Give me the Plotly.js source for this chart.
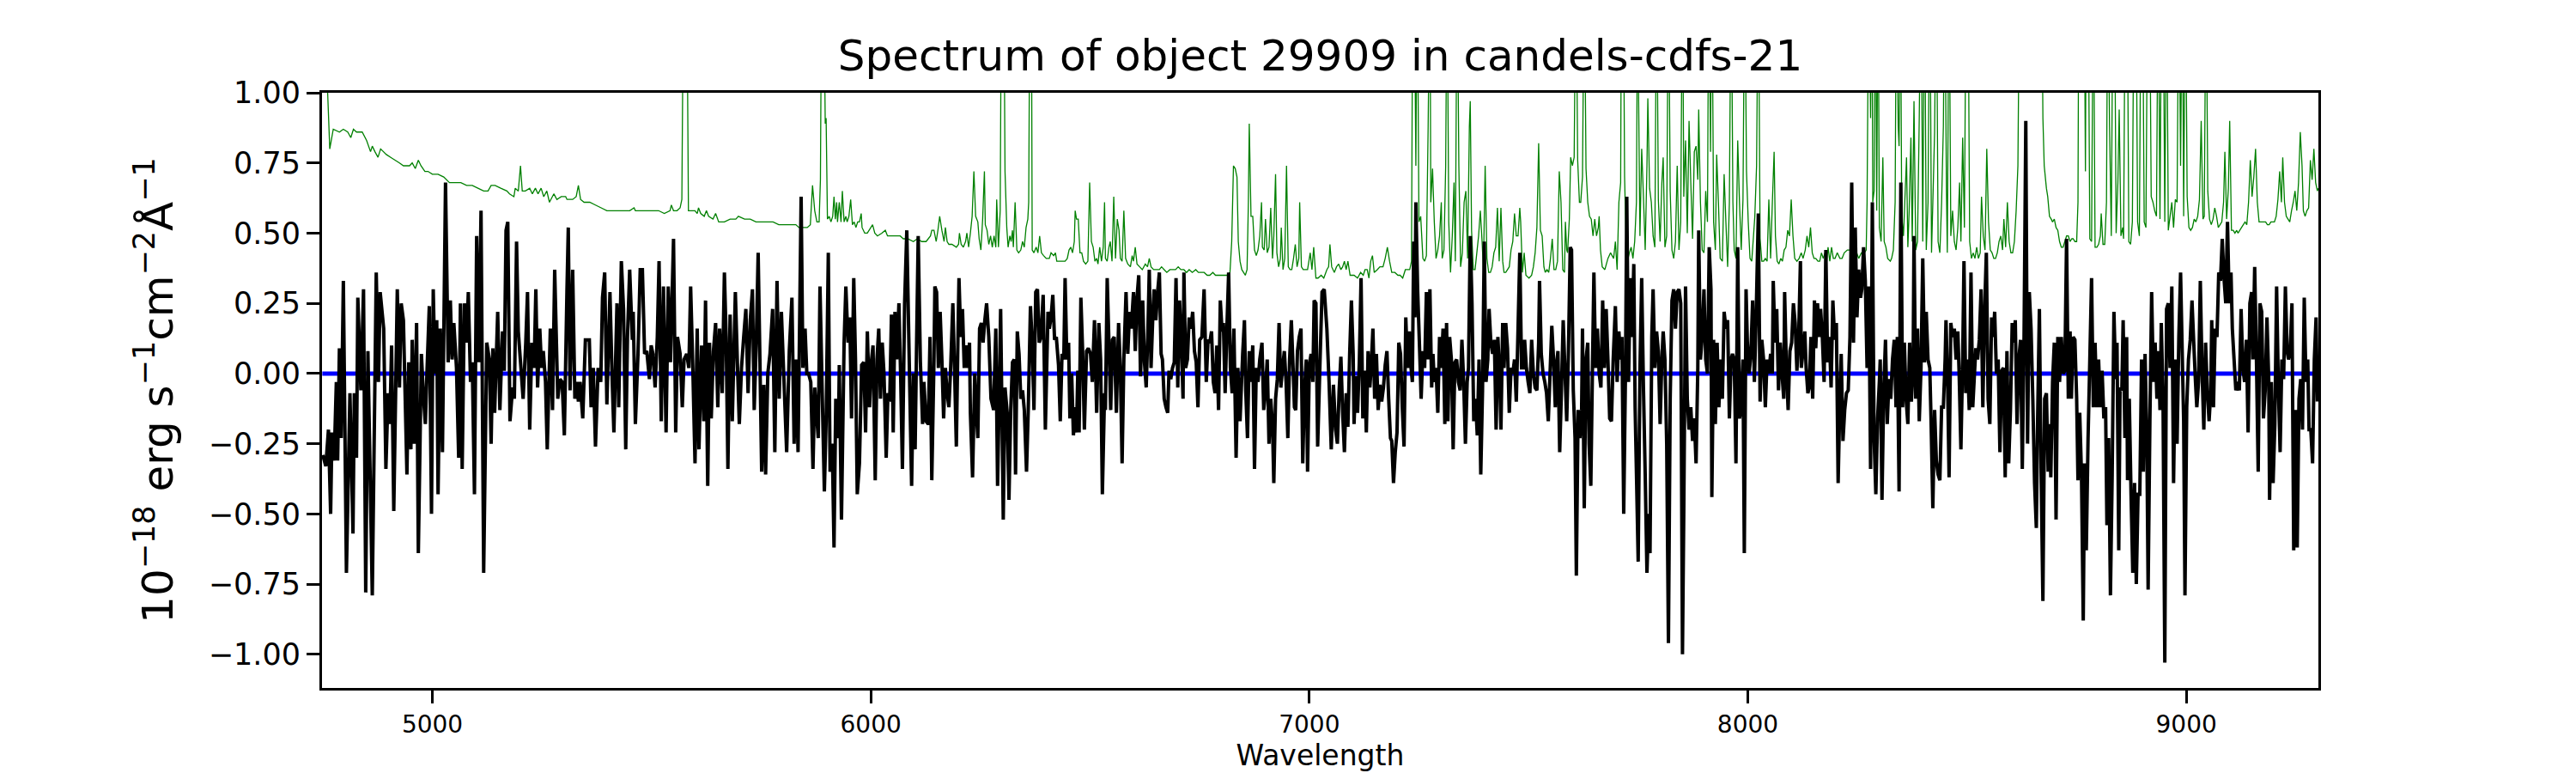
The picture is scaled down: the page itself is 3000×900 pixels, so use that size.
<!DOCTYPE html>
<html><head><meta charset="utf-8">
<script src="https://cdn.plot.ly/plotly-3.0.1.min.js"></script>
<style>html,body{margin:0;padding:0;background:#fff}</style>
</head><body><div id="chart" style="width:3000px;height:900px"></div>
<script>
// Flux readings: [wavelength (Angstrom), flux (1e-18 erg/s/cm2/A)]
const fluxA = [[4750,-0.29],[4757,-0.33],[4763,-0.20],[4768,-0.50],[4771,-0.21],[4776,-0.31],[4781,-0.03],[4784,-0.31],[4788,0.09],[4792,-0.23],[4797,0.33],[4804,-0.71],[4812,-0.07],[4819,-0.57],[4822,-0.07],[4827,-0.30],[4830,0.27],[4837,-0.06],[4843,0.30],[4848,-0.78],[4853,0.08],[4863,-0.79],[4872,0.36],[4877,-0.03],[4881,0.29],[4889,0.16],[4894,-0.34],[4899,-0.07],[4903,-0.18],[4907,0.10],[4912,-0.49],[4920,0.30],[4925,-0.05],[4929,0.25],[4934,0.19],[4942,-0.36],[4946,0.04],[4951,-0.27],[4954,0.12],[4959,-0.25],[4964,0.18],[4968,-0.64],[4975,0.07],[4980,-0.09],[4984,-0.18],[4988,0.02],[4993,0.24],[4998,-0.50],[5002,0.30],[5006,0.00],[5010,0.19],[5013,-0.43],[5018,0.16],[5023,-0.28],[5030,0.68],[5036,0.04],[5041,0.26],[5045,0.05],[5049,0.18],[5055,0.02],[5060,-0.30],[5064,0.25],[5068,-0.34],[5073,0.25],[5078,0.11],[5082,0.29],[5087,-0.03],[5091,0.04],[5096,-0.43],[5101,0.49],[5106,0.04],[5111,0.58],[5117,-0.71],[5124,0.11],[5130,0.05],[5134,-0.25],[5138,0.09],[5142,-0.14],[5149,0.22],[5154,-0.13],[5160,0.15],[5164,0.01],[5168,0.51],[5172,0.54],[5177,-0.17],[5183,-0.05],[5187,-0.09],[5192,0.47],[5196,0.15],[5202,0.02],[5207,-0.09],[5213,0.11],[5217,0.29],[5222,-0.20],[5227,0.11],[5232,0.02],[5236,0.30],[5240,-0.05],[5245,0.16],[5249,0.02],[5253,0.08],[5258,-0.03],[5262,-0.27],[5269,0.16],[5274,-0.13],[5279,0.37],[5286,-0.09],[5291,-0.02],[5296,-0.03],[5301,-0.22],[5307,0.30]];
const fluxB = [[5310,0.52],[5314,-0.06],[5320,0.37],[5325,-0.09],[5330,-0.03],[5333,-0.10],[5337,-0.03],[5343,-0.16],[5349,0.12],[5358,0.12],[5362,-0.12],[5367,0.02],[5372,-0.26],[5378,0.02],[5384,-0.03],[5388,0.27],[5393,0.36],[5398,-0.11],[5405,0.29],[5410,-0.02],[5414,-0.21],[5421,0.25],[5425,-0.12],[5431,0.40],[5436,0.23],[5441,-0.27],[5445,0.13],[5450,0.37],[5456,0.12],[5458,0.22],[5463,-0.18],[5469,0.07],[5474,0.37],[5479,0.37],[5484,0.07],[5489,0.08],[5495,-0.02],[5499,0.10],[5503,0.07],[5508,-0.05],[5513,0.13],[5517,0.40],[5522,-0.17],[5527,0.31],[5533,-0.21],[5538,0.31],[5543,0.04],[5550,0.48],[5555,-0.21],[5559,0.13],[5565,0.07],[5570,-0.12],[5574,0.05],[5580,0.07],[5585,0.02],[5589,0.31],[5594,0.02],[5599,-0.32],[5604,0.16],[5608,-0.27],[5614,0.10],[5619,-0.17],[5623,0.26],[5628,-0.40],[5632,0.11],[5636,-0.16],[5641,0.08],[5646,0.18],[5651,-0.12],[5655,0.16],[5661,-0.07],[5666,0.36],[5670,0.13],[5674,-0.34],[5679,0.21],[5684,-0.17],[5691,0.29],[5696,0.02],[5700,-0.18],[5705,0.02],[5710,0.13],[5715,0.23],[5720,-0.07],[5725,0.19],[5730,0.30],[5734,-0.13],[5739,0.13],[5743,0.43],[5747,0.05],[5751,-0.35],[5756,-0.04],[5760,-0.36],[5765,0.00],[5770,0.07],[5776,0.23],[5781,-0.28],[5786,0.33],[5791,-0.09],[5796,0.22],[5802,-0.03],[5808,-0.28],[5814,0.08],[5820,0.27],[5825,-0.25],[5829,0.05],[5834,-0.28],[5841,0.63],[5845,0.02],[5850,0.16],[5854,0.00],[5858,0.00],[5863,-0.03],[5868,-0.34],[5872,-0.05]];
const fluxC = [[5880,-0.23],[5884,0.31],[5889,-0.06],[5894,-0.42],[5898,-0.17],[5903,0.43],[5907,-0.35],[5912,-0.25],[5916,-0.62],[5920,-0.09],[5926,-0.23],[5928,0.03],[5933,-0.52],[5939,0.11],[5943,0.31],[5948,0.11],[5952,0.20],[5956,-0.16],[5961,0.34],[5965,0.05],[5969,-0.43],[5974,-0.32],[5979,0.03],[5984,0.04],[5988,-0.21],[5992,0.15],[5997,-0.12],[6001,0.04],[6005,0.10],[6010,-0.38],[6014,0.05],[6018,0.16],[6022,-0.09],[6026,0.11],[6030,0.00],[6035,-0.30],[6039,-0.07],[6043,-0.10],[6047,0.21],[6051,-0.21],[6055,0.22],[6059,0.05],[6064,0.25],[6068,-0.01],[6072,-0.34],[6077,0.25],[6082,0.51],[6087,0.09],[6093,-0.40],[6097,0.00],[6101,-0.27],[6104,0.07],[6108,0.49],[6113,0.04],[6118,-0.18],[6121,-0.03],[6126,-0.17],[6131,-0.18],[6135,0.13],[6139,-0.38],[6144,0.05],[6146,0.31],[6150,0.29],[6154,0.02],[6158,0.22],[6162,0.05],[6166,-0.16],[6170,0.02],[6174,-0.07],[6178,-0.12],[6182,0.02],[6187,0.25],[6191,0.01],[6195,-0.26],[6199,0.16],[6201,0.34],[6205,0.13],[6209,0.23],[6213,0.02],[6217,0.10],[6221,0.02],[6225,0.11],[6227,-0.14],[6232,-0.37],[6237,0.00],[6240,-0.12],[6244,-0.23],[6248,0.16],[6252,0.18],[6256,0.11],[6260,0.19],[6264,0.25],[6269,0.13],[6274,-0.09],[6280,-0.13],[6285,0.16],[6289,-0.40],[6293,-0.06],[6296,0.23],[6302,-0.52],[6306,-0.05],[6311,-0.14],[6315,-0.45],[6319,-0.13],[6323,0.04],[6327,0.05],[6330,-0.36],[6334,0.15],[6338,0.07],[6342,-0.09],[6346,-0.06],[6350,-0.13],[6355,-0.35],[6359,-0.13],[6364,0.24],[6368,0.11],[6372,-0.13],[6376,0.29],[6380,0.30],[6384,0.11],[6388,0.13],[6393,0.28],[6398,-0.20],[6404,0.22],[6407,0.16],[6411,0.20],[6415,0.28],[6419,0.12],[6423,0.13],[6428,0.03],[6432,-0.17],[6436,0.07],[6440,0.05]];
const fluxD = [[6443,0.34],[6447,0.05],[6451,0.11],[6454,-0.16],[6458,0.00],[6462,-0.22],[6466,-0.12],[6469,-0.21],[6472,0.01],[6475,-0.21],[6479,0.27],[6483,0.08],[6487,-0.20],[6492,0.08],[6496,0.09],[6501,0.07],[6505,-0.03],[6510,0.19],[6515,-0.14],[6520,0.18],[6524,0.05],[6528,-0.43],[6533,-0.07],[6535,-0.13],[6539,0.34],[6544,0.05],[6547,-0.13],[6551,0.12],[6555,0.13],[6560,-0.14],[6565,0.18],[6569,0.02],[6573,-0.32],[6577,0.05],[6582,0.29],[6586,0.07],[6590,0.22],[6594,0.16],[6599,0.29],[6603,0.08],[6607,0.27],[6611,0.35],[6615,-0.01],[6620,0.26],[6624,0.04],[6628,-0.05],[6632,0.16],[6635,0.37],[6639,0.02],[6643,0.20],[6646,0.30],[6650,0.19],[6654,0.29],[6658,0.36],[6662,0.07],[6665,0.05],[6669,-0.09],[6673,-0.12],[6677,-0.14],[6680,0.01],[6684,-0.02],[6688,0.02],[6692,0.04],[6696,0.34],[6700,-0.05],[6704,0.26],[6708,0.12],[6712,-0.09],[6714,0.36],[6718,0.02],[6722,0.05],[6726,0.20],[6730,0.16],[6734,0.22],[6738,0.08],[6742,0.04],[6746,-0.12],[6750,0.12],[6755,0.13],[6760,0.30],[6765,-0.03],[6769,0.12],[6773,0.11],[6777,0.15],[6781,-0.03],[6785,-0.07],[6789,0.10],[6793,-0.13],[6797,0.26],[6801,0.15],[6804,0.18],[6808,-0.07],[6812,0.16],[6816,0.36],[6820,0.02],[6824,-0.07],[6828,0.16],[6833,-0.30],[6837,0.02],[6842,-0.17],[6848,0.07],[6852,0.19],[6855,-0.06],[6859,-0.23],[6863,0.08],[6867,-0.03],[6871,0.10],[6875,-0.34],[6879,0.02],[6883,-0.03],[6887,0.05],[6892,0.11],[6896,-0.13],[6900,-0.06],[6904,0.05],[6908,-0.25],[6912,-0.09],[6916,-0.18],[6919,-0.39],[6923,-0.09],[6927,-0.02],[6931,0.18],[6935,-0.05],[6939,0.02],[6943,0.08],[6947,-0.03],[6951,-0.23],[6955,0.05],[6959,0.19],[6963,0.02],[6966,-0.12],[6969,-0.13],[6973,0.08],[6977,0.13],[6981,0.16],[6985,-0.32],[6989,-0.06],[6993,0.05],[6996,-0.35],[7000,0.03],[7004,0.07],[7008,-0.03]];
const fluxE = [[7011,0.26],[7015,0.25],[7019,-0.26],[7024,0.02],[7029,0.29],[7034,0.30],[7040,0.16],[7045,-0.03],[7050,-0.27],[7055,-0.04],[7060,-0.20],[7064,-0.25],[7068,-0.06],[7072,0.06],[7076,-0.14],[7080,-0.28],[7084,-0.07],[7088,-0.19],[7092,0.07],[7096,0.26],[7100,0.07],[7102,-0.18],[7106,-0.01],[7110,-0.14],[7114,0.04],[7118,0.34],[7122,-0.16],[7126,0.01],[7130,-0.21],[7134,0.08],[7138,-0.05],[7141,0.02],[7145,0.16],[7149,-0.09],[7153,0.07],[7157,-0.13],[7161,-0.04],[7165,-0.10],[7169,-0.05],[7173,0.03],[7177,0.08],[7181,-0.09],[7185,-0.23],[7188,-0.24],[7192,-0.39],[7196,-0.28],[7200,-0.21],[7204,0.11],[7208,0.07],[7212,-0.12],[7216,-0.26],[7220,0.20],[7224,0.02],[7228,0.15],[7232,0.02],[7235,-0.03],[7238,0.47],[7241,0.20],[7243,0.61],[7247,0.30],[7251,0.11],[7255,-0.09],[7259,0.08],[7263,0.02],[7267,0.29],[7271,0.05],[7275,0.30],[7279,-0.05],[7282,0.07],[7285,-0.03],[7289,0.02],[7293,-0.14],[7297,0.13],[7301,0.02],[7305,0.16],[7309,-0.18],[7313,0.18],[7316,-0.17],[7320,0.13],[7324,0.05],[7328,-0.27],[7332,0.04],[7336,0.05],[7340,-0.03],[7344,-0.06],[7348,0.12],[7352,-0.03],[7356,-0.25],[7360,-0.03],[7363,0.02],[7367,0.49],[7371,0.25],[7375,-0.17],[7379,-0.09],[7383,-0.22],[7387,0.05],[7391,-0.36],[7395,-0.06],[7399,0.47],[7403,-0.03],[7407,0.05],[7410,0.23],[7414,0.11],[7418,0.07],[7422,0.12],[7426,-0.20],[7430,0.13],[7434,0.00],[7437,-0.20],[7441,0.18],[7444,0.02],[7448,0.18],[7452,0.09],[7456,-0.14],[7460,0.02],[7464,0.00],[7468,0.05],[7472,-0.10],[7476,0.16],[7480,0.43],[7484,0.02],[7488,0.02],[7491,0.12],[7495,0.02],[7499,-0.03],[7503,-0.07],[7507,0.12],[7511,0.00],[7515,-0.05],[7519,-0.06],[7523,0.11],[7525,0.33],[7529,0.07],[7533,0.00],[7537,-0.03],[7541,-0.07],[7545,-0.17],[7549,0.00],[7553,0.17],[7557,0.05],[7561,-0.12],[7565,0.05],[7567,0.08],[7571,-0.28],[7575,-0.06],[7579,0.19]];
const fluxF = [[7587,-0.17],[7591,0.08],[7595,0.45],[7598,0.44],[7602,-0.06],[7606,-0.23],[7609,-0.72],[7613,-0.13],[7617,-0.23],[7621,-0.13],[7623,0.16],[7627,-0.48],[7631,0.05],[7635,0.11],[7638,-0.25],[7642,-0.40],[7646,0.05],[7649,0.36],[7653,0.02],[7657,0.16],[7661,0.00],[7665,-0.05],[7669,0.26],[7673,0.02],[7677,0.23],[7681,0.05],[7685,-0.16],[7689,-0.17],[7693,0.05],[7698,0.24],[7702,-0.03],[7706,0.15],[7710,0.05],[7713,0.13],[7717,-0.50],[7721,0.00],[7724,0.63],[7728,-0.03],[7732,0.34],[7736,0.13],[7740,0.39],[7743,-0.12],[7747,-0.43],[7750,-0.67],[7754,0.01],[7758,0.34],[7762,-0.05],[7766,-0.36],[7770,-0.71],[7774,-0.50],[7777,-0.64],[7781,0.13],[7784,0.30],[7788,0.02],[7792,0.15],[7796,0.08],[7800,-0.18],[7804,0.05],[7807,0.15],[7811,0.05],[7815,-0.25],[7819,-0.96],[7823,-0.09],[7827,0.26],[7831,0.30],[7835,0.16],[7839,0.29],[7843,0.30],[7847,0.25],[7851,-1.00],[7854,-0.49],[7858,0.31],[7862,-0.09],[7866,-0.20],[7870,-0.12],[7874,-0.24],[7878,-0.16],[7882,-0.32],[7886,0.02],[7888,0.51],[7892,0.05],[7896,0.13],[7900,0.30],[7904,0.05],[7908,0.00],[7912,0.45],[7916,0.30],[7918,-0.44],[7922,0.12],[7926,-0.18],[7930,0.11],[7934,-0.12],[7938,0.05],[7942,-0.09],[7946,0.22],[7950,0.16],[7954,0.19],[7958,-0.16],[7962,0.05],[7965,0.07],[7969,0.05],[7973,-0.32],[7977,0.45],[7981,-0.16],[7985,-0.12],[7989,0.05],[7992,-0.64],[7996,0.30],[7999,0.11],[8003,0.00],[8007,0.07],[8011,0.26],[8015,-0.03],[8019,0.20],[8024,0.57],[8028,-0.10],[8032,0.12],[8036,0.05],[8040,-0.12],[8044,0.05],[8048,0.00],[8052,0.07],[8056,0.00],[8058,0.33],[8062,0.11],[8066,0.23],[8070,-0.06],[8074,0.11],[8078,0.00],[8082,-0.09],[8084,0.29],[8088,0.02],[8092,-0.13],[8096,0.08],[8100,0.11],[8104,0.25],[8108,0.18],[8112,0.01],[8116,0.13],[8120,0.40],[8122,0.02],[8126,0.08],[8130,0.15],[8133,0.02],[8137,-0.07],[8140,-0.05],[8144,0.13],[8148,-0.09],[8152,0.26]];
const fluxG = [[8155,0.09],[8159,0.25],[8163,0.13],[8166,0.23],[8170,0.13],[8174,-0.03],[8178,0.44],[8182,0.04],[8186,0.13],[8190,-0.05],[8194,0.26],[8198,0.12],[8202,0.18],[8206,-0.39],[8210,-0.09],[8213,0.07],[8217,-0.24],[8221,-0.13],[8225,-0.07],[8229,-0.06],[8233,0.13],[8237,0.68],[8241,0.11],[8245,0.52],[8249,0.20],[8253,0.37],[8257,0.27],[8260,0.30],[8264,0.45],[8268,0.33],[8272,0.02],[8276,0.31],[8280,-0.34],[8284,0.61],[8288,-0.23],[8292,-0.43],[8296,-0.16],[8300,-0.03],[8302,0.05],[8306,-0.45],[8310,-0.06],[8314,0.12],[8318,-0.18],[8322,-0.02],[8326,-0.09],[8330,0.05],[8334,0.12],[8338,-0.12],[8341,0.13],[8345,-0.42],[8349,0.68],[8353,-0.12],[8357,0.11],[8361,-0.09],[8365,-0.18],[8369,0.11],[8373,-0.10],[8377,0.02],[8379,0.49],[8383,-0.09],[8387,0.16],[8391,-0.17],[8395,0.02],[8399,0.41],[8403,0.04],[8407,0.22],[8411,0.05],[8415,0.02],[8418,-0.17],[8422,-0.48],[8426,-0.13],[8430,-0.31],[8434,-0.36],[8438,-0.38],[8442,-0.12],[8446,-0.12],[8450,0.05],[8452,0.19],[8456,-0.06],[8459,-0.37],[8463,0.18],[8467,0.13],[8471,0.16],[8475,0.05],[8479,0.15],[8482,0.00],[8486,-0.27],[8490,0.05],[8493,0.40],[8497,-0.07],[8501,0.05],[8505,-0.13],[8509,0.36],[8513,-0.12],[8516,-0.03],[8520,0.09],[8524,0.05],[8528,0.12],[8532,0.30],[8536,-0.12],[8540,0.22],[8544,0.43],[8548,-0.09],[8552,-0.18],[8556,0.20],[8560,0.13],[8563,0.22],[8567,0.00],[8571,0.05],[8575,-0.28],[8579,0.01],[8583,0.02],[8587,-0.37],[8591,0.08],[8595,-0.32],[8599,-0.13],[8603,0.18],[8607,0.11],[8610,0.19],[8614,-0.18],[8618,0.05],[8622,0.12],[8626,-0.34],[8630,0.13],[8634,0.90],[8638,-0.25],[8642,0.29],[8646,0.16],[8650,-0.09],[8654,-0.39],[8658,-0.55],[8661,-0.16],[8665,0.23],[8669,-0.36],[8673,-0.81],[8677,-0.09],[8681,-0.07],[8685,-0.35],[8689,-0.18],[8691,-0.37],[8695,-0.03],[8699,0.11],[8703,-0.52],[8707,0.13],[8711,-0.03],[8715,0.13],[8719,0.00],[8723,0.01]];
const fluxH = [[8727,0.48],[8731,-0.09],[8735,0.15],[8738,-0.09],[8742,0.13],[8746,0.12],[8750,-0.09],[8753,-0.38],[8757,-0.14],[8761,-0.36],[8765,-0.88],[8768,-0.32],[8772,-0.63],[8776,-0.23],[8780,0.05],[8784,0.34],[8788,-0.12],[8792,0.11],[8796,-0.12],[8800,0.05],[8804,-0.12],[8808,0.01],[8812,-0.16],[8816,-0.12],[8819,-0.54],[8823,-0.23],[8827,-0.79],[8831,-0.36],[8835,0.22],[8839,-0.02],[8842,0.11],[8846,-0.63],[8849,-0.05],[8853,-0.06],[8856,0.19],[8860,-0.23],[8864,0.13],[8866,-0.38],[8870,-0.09],[8874,-0.43],[8878,-0.71],[8882,-0.39],[8886,-0.75],[8890,-0.43],[8894,-0.43],[8898,0.05],[8902,-0.35],[8906,0.07],[8910,-0.23],[8913,-0.77],[8917,-0.17],[8921,0.29],[8925,-0.03],[8929,0.11],[8933,-0.09],[8937,0.08],[8940,-0.13],[8943,0.18],[8947,-0.10],[8951,-1.03],[8955,0.23],[8959,0.25],[8963,0.02],[8967,0.31],[8971,-0.39],[8975,0.05],[8979,-0.25],[8983,0.13],[8987,0.36],[8990,0.13],[8994,-0.17],[8997,-0.79],[9001,-0.12],[9005,0.05],[9009,0.12],[9013,0.26],[9017,0.11],[9021,-0.03],[9024,-0.12],[9028,-0.03],[9032,0.33],[9036,0.01],[9040,-0.20],[9044,0.11],[9048,-0.06],[9052,-0.17],[9056,-0.06],[9058,0.19],[9062,-0.12],[9066,0.16],[9070,0.13],[9074,0.36],[9078,0.33],[9082,0.48],[9086,0.34],[9090,0.25],[9094,0.54],[9098,0.25],[9102,0.36],[9105,0.16],[9109,0.05],[9113,-0.06],[9117,-0.03],[9121,-0.06],[9125,0.23],[9129,0.02],[9133,-0.03],[9137,0.12],[9141,-0.21],[9145,0.25],[9149,0.29],[9152,0.05],[9156,0.38],[9160,0.05],[9164,-0.35],[9168,0.25],[9172,0.22],[9176,-0.16],[9180,-0.06],[9184,0.20],[9188,-0.02],[9190,-0.45],[9194,-0.03],[9198,-0.39],[9202,-0.18],[9206,0.31],[9210,-0.05],[9214,-0.28],[9218,0.05],[9222,-0.02],[9226,0.31],[9230,0.08],[9233,0.05],[9237,0.08],[9241,0.25],[9245,-0.63],[9249,-0.13],[9253,-0.62],[9257,-0.09],[9261,-0.02],[9265,-0.20],[9269,0.27],[9273,-0.03],[9277,0.05],[9280,-0.20],[9284,-0.20],[9288,-0.32],[9292,0.05],[9296,0.20],[9299,-0.10]];

// Noise (sigma) readings: [wavelength, sigma]; values above 1 run off the top of the axes
const noiseA = [[4749,1.6],[4760,1.05],[4766,0.80],[4774,0.87],[4788,0.86],[4797,0.87],[4807,0.86],[4814,0.84],[4820,0.87],[4827,0.86],[4840,0.86],[4850,0.83],[4859,0.79],[4863,0.81],[4869,0.79],[4876,0.77],[4882,0.80],[4895,0.78],[4905,0.77],[4915,0.76],[4925,0.75],[4934,0.74],[4948,0.74],[4954,0.75],[4961,0.73],[4968,0.76],[4974,0.74],[4983,0.72],[4990,0.72],[5000,0.71],[5013,0.71],[5026,0.70],[5039,0.68],[5052,0.68],[5065,0.68],[5078,0.67],[5091,0.67],[5104,0.66],[5117,0.65],[5127,0.65],[5134,0.67],[5143,0.67],[5156,0.66],[5170,0.65],[5176,0.64],[5186,0.63],[5189,0.66],[5196,0.65],[5201,0.74],[5205,0.65],[5212,0.65],[5222,0.66],[5228,0.64],[5235,0.66],[5241,0.64],[5248,0.66],[5254,0.63],[5261,0.65],[5267,0.61],[5277,0.64],[5284,0.62],[5294,0.63],[5304,0.63]];
const noiseB = [[5307,0.62],[5320,0.62],[5328,0.63],[5333,0.67],[5338,0.62],[5346,0.61],[5359,0.61],[5372,0.60],[5385,0.59],[5398,0.58],[5411,0.58],[5424,0.58],[5437,0.58],[5450,0.58],[5460,0.59],[5463,0.58],[5476,0.58],[5489,0.58],[5503,0.58],[5516,0.58],[5529,0.57],[5542,0.58],[5545,0.60],[5550,0.58],[5558,0.58],[5565,0.59],[5569,0.62],[5573,1.5],[5580,1.5],[5584,0.58],[5589,0.58],[5594,0.58],[5599,0.58],[5604,0.57],[5607,0.59],[5612,0.57],[5620,0.56],[5625,0.58],[5630,0.56],[5640,0.55],[5646,0.57],[5653,0.54],[5666,0.54],[5679,0.55],[5692,0.55],[5698,0.56],[5712,0.55],[5725,0.55],[5738,0.54],[5751,0.54],[5764,0.54],[5777,0.54],[5790,0.53],[5803,0.53],[5816,0.53],[5829,0.53],[5836,0.52],[5842,0.52],[5855,0.52],[5862,0.53],[5867,0.67],[5872,0.58]];
const noiseC = [[5877,0.54],[5882,0.54],[5885,0.69],[5888,1.5],[5892,1.5],[5896,0.89],[5898,0.91],[5901,0.55],[5905,0.56],[5909,0.54],[5913,0.56],[5916,0.63],[5919,0.55],[5922,0.61],[5924,0.54],[5928,0.61],[5932,0.54],[5935,0.65],[5939,0.54],[5943,0.56],[5946,0.54],[5950,0.56],[5954,0.62],[5958,0.53],[5962,0.54],[5966,0.52],[5970,0.54],[5974,0.54],[5978,0.57],[5980,0.52],[5986,0.50],[5992,0.50],[6000,0.52],[6004,0.53],[6009,0.50],[6015,0.49],[6025,0.50],[6033,0.51],[6038,0.49],[6048,0.49],[6057,0.49],[6067,0.49],[6074,0.48],[6084,0.48],[6097,0.47],[6106,0.48],[6116,0.47],[6126,0.47],[6136,0.49],[6139,0.51],[6144,0.51],[6149,0.47],[6153,0.51],[6157,0.56],[6162,0.51],[6167,0.47],[6170,0.52],[6174,0.47],[6178,0.46],[6185,0.46],[6195,0.45],[6200,0.46],[6202,0.50],[6206,0.46],[6211,0.45],[6216,0.47],[6219,0.50],[6223,0.45],[6227,0.50],[6231,0.56],[6235,0.72],[6239,0.56],[6244,0.54],[6247,0.48],[6251,0.44],[6255,0.55],[6259,0.72],[6261,0.53],[6265,0.51],[6269,0.46],[6273,0.49],[6277,0.45],[6281,0.49],[6285,0.45],[6287,0.62],[6291,0.45],[6295,0.58],[6298,1.5],[6303,1.5],[6306,0.72],[6310,0.52],[6313,0.45],[6317,0.49],[6320,0.47],[6323,0.51],[6325,0.45],[6329,0.61],[6333,0.44],[6337,0.43],[6342,0.44],[6346,0.47],[6350,0.45],[6354,0.52],[6358,0.55],[6360,0.61],[6363,1.5],[6366,1.5],[6368,0.44],[6372,0.43],[6377,0.45],[6381,0.43],[6385,0.49],[6389,0.43],[6394,0.42],[6400,0.41],[6407,0.41],[6411,0.43],[6417,0.42],[6421,0.43],[6424,0.40],[6431,0.40],[6439,0.40]];
const noiseD = [[6443,0.40],[6448,0.41],[6452,0.44],[6456,0.45],[6460,0.43],[6464,0.47],[6466,0.58],[6469,0.55],[6473,0.55],[6477,0.43],[6481,0.43],[6485,0.40],[6490,0.39],[6495,0.40],[6499,0.68],[6503,0.47],[6507,0.45],[6511,0.40],[6515,0.41],[6518,0.39],[6522,0.45],[6526,0.40],[6530,0.45],[6533,0.61],[6535,0.41],[6539,0.40],[6543,0.45],[6546,0.47],[6550,0.40],[6554,0.63],[6558,0.41],[6562,0.55],[6566,0.51],[6569,0.41],[6573,0.40],[6577,0.58],[6581,0.41],[6586,0.39],[6592,0.38],[6596,0.42],[6599,0.40],[6603,0.45],[6607,0.39],[6613,0.38],[6619,0.37],[6626,0.39],[6631,0.38],[6635,0.41],[6639,0.38],[6645,0.37],[6652,0.37],[6658,0.37],[6663,0.38],[6669,0.37],[6675,0.36],[6682,0.37],[6688,0.37],[6695,0.37],[6701,0.38],[6707,0.37],[6714,0.37],[6720,0.36],[6726,0.37],[6733,0.36],[6741,0.37],[6747,0.36],[6754,0.36],[6760,0.36],[6767,0.35],[6773,0.35],[6780,0.36],[6786,0.35],[6793,0.35],[6799,0.35],[6806,0.35],[6812,0.35],[6819,0.36],[6823,0.47],[6827,0.74],[6831,0.73],[6835,0.70],[6838,0.47],[6842,0.40],[6846,0.37],[6850,0.36],[6854,0.35],[6858,0.37],[6861,0.61],[6863,0.89],[6867,0.56],[6871,0.56],[6875,0.44],[6879,0.42],[6883,0.44],[6887,0.49],[6891,0.61],[6893,0.45],[6897,0.44],[6900,0.55],[6904,0.43],[6908,0.45],[6912,0.59],[6916,0.41],[6919,0.49],[6923,0.71],[6926,0.43],[6930,0.38],[6934,0.41],[6936,0.52],[6940,0.37],[6944,0.41],[6948,0.74],[6952,0.38],[6956,0.37],[6960,0.37],[6964,0.41],[6968,0.46],[6972,0.38],[6976,0.41],[6978,0.61],[6982,0.38],[6986,0.37],[6990,0.37],[6996,0.37],[7002,0.43],[7006,0.37],[7010,0.45]];
const noiseE = [[7015,0.34],[7020,0.34],[7027,0.35],[7033,0.34],[7040,0.37],[7044,0.38],[7047,0.46],[7051,0.38],[7057,0.36],[7062,0.38],[7067,0.39],[7072,0.37],[7076,0.38],[7080,0.40],[7084,0.37],[7088,0.40],[7093,0.35],[7102,0.35],[7110,0.34],[7117,0.36],[7123,0.35],[7127,0.37],[7132,0.37],[7136,0.34],[7140,0.40],[7144,0.42],[7148,0.36],[7155,0.37],[7161,0.38],[7168,0.38],[7173,0.41],[7178,0.45],[7183,0.40],[7188,0.36],[7195,0.36],[7202,0.35],[7207,0.35],[7213,0.34],[7219,0.37],[7224,0.37],[7229,0.37],[7233,0.40],[7236,1.5],[7239,1.5],[7243,0.74],[7246,1.5],[7250,0.54],[7254,0.56],[7259,0.41],[7263,0.40],[7267,0.42],[7271,0.88],[7275,1.5],[7277,0.61],[7281,0.73],[7285,0.54],[7289,0.41],[7293,0.44],[7297,0.49],[7301,0.61],[7303,0.41],[7307,0.44],[7311,0.74],[7314,1.5],[7318,0.54],[7322,0.36],[7326,0.49],[7330,0.68],[7333,0.40],[7337,1.5],[7341,0.74],[7345,0.38],[7349,0.43],[7353,0.61],[7357,0.65],[7361,0.41],[7365,0.88],[7367,0.97],[7370,0.51],[7374,0.37],[7378,0.37],[7382,0.43],[7386,0.49],[7390,0.58],[7394,0.47],[7397,0.37],[7401,0.74],[7405,0.41],[7409,0.36],[7413,0.36],[7417,0.38],[7421,0.43],[7425,0.45],[7429,0.59],[7433,0.40],[7437,0.59],[7441,0.40],[7444,0.36],[7448,0.36],[7452,0.37],[7456,0.38],[7460,0.44],[7464,0.47],[7468,0.57],[7472,0.49],[7476,0.49],[7480,0.59],[7482,0.54],[7486,0.36],[7490,0.43],[7494,0.35],[7501,0.34],[7507,0.35],[7511,0.38],[7515,0.43],[7519,0.52],[7523,0.82],[7527,0.51],[7531,0.49],[7535,0.38],[7538,0.36],[7542,0.37],[7546,0.36],[7550,0.41],[7554,0.48],[7558,0.37],[7562,0.37],[7566,0.40],[7570,0.72],[7574,0.61],[7578,0.37],[7582,0.36]];
const noiseF = [[7584,0.54],[7587,0.44],[7589,0.43],[7593,0.55],[7596,0.77],[7600,0.74],[7604,0.77],[7608,1.5],[7612,0.76],[7616,0.61],[7619,0.61],[7623,0.70],[7627,1.5],[7631,0.73],[7635,0.61],[7639,0.56],[7643,0.55],[7647,0.49],[7651,0.55],[7655,0.49],[7659,0.52],[7661,0.56],[7664,0.44],[7668,0.38],[7674,0.37],[7681,0.41],[7687,0.43],[7694,0.41],[7698,0.47],[7702,0.37],[7706,0.61],[7710,0.68],[7712,1.5],[7716,1.5],[7719,0.70],[7723,0.43],[7727,0.41],[7730,0.43],[7734,0.45],[7738,0.41],[7742,0.47],[7746,0.61],[7749,1.5],[7751,0.98],[7754,0.49],[7758,0.80],[7762,0.63],[7766,0.44],[7770,0.74],[7772,0.98],[7776,0.66],[7780,0.61],[7784,0.49],[7788,0.45],[7792,1.5],[7796,0.62],[7800,0.47],[7804,0.68],[7807,0.77],[7811,0.45],[7815,0.49],[7819,1.5],[7823,0.65],[7827,0.44],[7831,0.41],[7835,0.47],[7839,0.74],[7843,0.44],[7847,0.54],[7851,1.5],[7854,0.63],[7858,0.83],[7862,0.50],[7866,0.90],[7870,0.68],[7874,0.48],[7878,0.79],[7882,0.81],[7886,0.69],[7888,0.94],[7892,0.61],[7896,0.44],[7900,0.43],[7904,0.65],[7908,0.54],[7911,1.5],[7915,0.79],[7918,1.5],[7922,0.54],[7926,0.44],[7929,0.78],[7933,0.61],[7937,0.41],[7942,0.40],[7946,0.71],[7950,0.54],[7954,0.38],[7958,0.61],[7962,1.5],[7966,0.61],[7969,0.44],[7973,0.41],[7977,0.83],[7981,0.61],[7985,0.44],[7989,0.62],[7993,1.5],[7997,0.72],[8001,0.54],[8005,0.41],[8009,0.40],[8013,0.49],[8016,0.56],[8020,0.74],[8024,1.5],[8028,0.48],[8032,0.40],[8036,0.40],[8040,0.41],[8044,0.40],[8048,0.62],[8052,0.41],[8056,0.61],[8060,0.79],[8063,0.49],[8067,0.40],[8071,0.39],[8075,0.41],[8079,0.40],[8083,0.44],[8087,0.45],[8091,0.51],[8095,0.49],[8099,0.62],[8103,0.49],[8107,0.41],[8112,0.40],[8117,0.41],[8122,0.43],[8126,0.41],[8131,0.44],[8135,0.49],[8139,0.45],[8143,0.52],[8147,0.43],[8151,0.41]];
const noiseG = [[8155,0.41],[8160,0.40],[8164,0.40],[8168,0.43],[8172,0.41],[8176,0.43],[8180,0.40],[8183,0.45],[8187,0.40],[8191,0.45],[8195,0.41],[8199,0.41],[8204,0.43],[8210,0.41],[8215,0.41],[8220,0.43],[8227,0.44],[8233,0.44],[8240,0.44],[8246,0.44],[8253,0.41],[8259,0.43],[8266,0.43],[8270,0.44],[8272,0.61],[8276,1.5],[8280,0.91],[8283,1.5],[8285,0.61],[8288,0.65],[8291,1.5],[8294,0.58],[8297,1.5],[8300,0.52],[8304,0.47],[8308,0.77],[8311,0.47],[8315,0.45],[8319,0.41],[8325,0.40],[8328,0.41],[8332,0.44],[8336,0.61],[8339,1.5],[8343,0.88],[8345,0.81],[8348,1.5],[8351,0.56],[8355,0.49],[8358,0.61],[8362,0.77],[8365,0.45],[8368,0.58],[8372,0.84],[8375,0.47],[8379,0.97],[8383,0.44],[8387,0.47],[8391,0.91],[8395,1.5],[8399,0.47],[8403,1.5],[8407,0.44],[8411,0.61],[8415,1.5],[8419,0.43],[8422,0.61],[8426,0.86],[8430,1.5],[8434,0.47],[8438,0.43],[8442,0.61],[8446,0.88],[8449,1.5],[8453,0.66],[8455,0.43],[8459,1.5],[8463,0.49],[8467,0.58],[8471,0.47],[8475,0.44],[8479,0.52],[8483,0.68],[8486,0.47],[8490,0.84],[8494,0.52],[8498,1.5],[8502,1.5],[8506,0.47],[8510,0.41],[8514,0.43],[8518,0.41],[8522,0.45],[8526,0.41],[8530,0.43],[8533,0.63],[8537,0.49],[8541,0.44],[8545,0.80],[8549,0.54],[8553,0.44],[8557,0.43],[8561,0.41],[8565,0.41],[8569,0.43],[8573,0.47],[8577,0.49],[8581,0.44],[8584,0.55],[8588,0.45],[8592,0.61],[8596,0.47],[8600,0.43],[8604,0.43],[8608,0.47],[8612,0.58],[8616,0.74],[8620,1.5],[8645,1.6],[8670,1.5],[8673,0.91],[8676,0.74],[8681,0.66],[8684,0.63],[8688,0.56],[8692,0.55],[8695,0.54],[8699,0.55],[8703,0.52],[8707,0.51],[8711,0.47],[8715,0.45],[8719,0.45],[8723,0.47]];
const noiseH = [[8727,0.49],[8731,0.49],[8735,0.47],[8739,0.48],[8742,0.48],[8746,0.47],[8750,0.47],[8753,0.61],[8755,1.5],[8767,1.5],[8770,0.72],[8772,1.5],[8776,1.5],[8780,0.48],[8784,0.47],[8788,1.5],[8792,0.45],[8796,0.45],[8800,0.46],[8804,0.49],[8806,0.57],[8810,0.46],[8814,0.46],[8818,0.61],[8821,1.5],[8825,0.88],[8829,0.49],[8833,1.5],[8836,1.5],[8840,0.50],[8844,0.68],[8847,0.94],[8851,0.49],[8855,0.52],[8857,0.48],[8861,1.5],[8865,1.5],[8869,0.47],[8873,0.46],[8877,0.54],[8881,1.5],[8885,1.5],[8889,0.54],[8893,0.49],[8897,1.5],[8900,1.5],[8904,0.54],[8908,0.52],[8912,1.5],[8916,1.5],[8920,0.63],[8924,0.61],[8928,0.58],[8932,0.56],[8936,1.5],[8940,0.55],[8944,1.5],[8947,1.5],[8951,0.54],[8955,1.5],[8959,0.51],[8963,0.56],[8967,0.61],[8971,0.52],[8975,0.62],[8979,0.61],[8983,1.5],[8987,0.74],[8991,1.5],[8994,0.56],[8998,1.5],[9002,0.63],[9006,0.52],[9010,0.51],[9014,0.52],[9018,0.55],[9022,0.54],[9026,0.56],[9030,0.62],[9034,0.90],[9038,0.55],[9041,0.56],[9045,1.5],[9049,0.65],[9053,0.55],[9057,0.53],[9061,0.55],[9065,0.59],[9069,0.56],[9073,0.52],[9077,0.53],[9081,0.54],[9085,0.61],[9088,0.79],[9092,0.55],[9096,0.66],[9099,0.90],[9103,0.51],[9107,0.51],[9111,0.50],[9115,0.51],[9118,0.50],[9122,0.51],[9126,0.52],[9130,0.53],[9134,0.54],[9138,0.53],[9142,0.61],[9146,0.76],[9150,0.63],[9154,0.70],[9158,0.80],[9162,0.61],[9166,0.54],[9169,0.54],[9173,0.54],[9177,0.54],[9181,0.54],[9185,0.53],[9189,0.53],[9193,0.54],[9197,0.54],[9201,0.54],[9205,0.56],[9209,0.62],[9213,0.72],[9217,0.61],[9220,0.77],[9224,0.61],[9228,0.56],[9232,0.55],[9236,0.54],[9240,0.58],[9244,0.61],[9248,0.65],[9252,0.58],[9256,0.68],[9260,0.86],[9264,0.74],[9267,0.58],[9271,0.56],[9275,0.58],[9279,0.59],[9283,0.76],[9287,0.69],[9291,0.80],[9295,0.68],[9299,0.65],[9301,0.66]];

const zeroLevel = 0;
const xTickVals = [5000, 6000, 7000, 8000, 9000];
const yTickVals = [-1.0, -0.75, -0.5, -0.25, 0, 0.25, 0.5, 0.75, 1.0];
const xRange = [4748.3, 9301.3];
const yRange = [-1.12, 1.0];
const chartTitle = 'Spectrum of object 29909 in candels-cdfs-21';
const xLabel = 'Wavelength';
const yLabel = '10<sup>\u221218</sup> erg s<sup>\u22121</sup>cm<sup>\u22122</sup>\u00c5<sup>\u22121</sup>';

const flux = [].concat(fluxA, fluxB, fluxC, fluxD, fluxE, fluxF, fluxG, fluxH);
const noise = [].concat(noiseA, noiseB, noiseC, noiseD, noiseE, noiseF, noiseG, noiseH);
const wlStart = noise[0][0], wlEnd = noise[noise.length - 1][0];

const traces = [
  {x: [wlStart, wlEnd], y: [zeroLevel, zeroLevel], type: 'scatter', mode: 'lines',
   line: {color: '#0000ff', width: 5}, hoverinfo: 'skip'},
  {x: noise.map(p => p[0]), y: noise.map(p => p[1]), type: 'scatter', mode: 'lines',
   line: {color: '#008000', width: 1.3, simplify: false}, hoverinfo: 'skip'},
  {x: flux.map(p => p[0]), y: flux.map(p => p[1]), type: 'scatter', mode: 'lines',
   line: {color: '#000000', width: 4, simplify: false}, hoverinfo: 'skip'}
];

const font = 'DejaVu Sans, Verdana, sans-serif';
const layout = {
  width: 3000, height: 900,
  margin: {l: 375, r: 300, t: 108, b: 99, pad: 0},
  paper_bgcolor: '#ffffff', plot_bgcolor: '#ffffff',
  showlegend: false,
  font: {family: font, color: '#000000'},
  title: {text: chartTitle, font: {family: font, size: 50, color: '#000'},
          x: 0.5, xref: 'paper', xanchor: 'center', y: 1 - 82 / 900, yref: 'container', yanchor: 'bottom'},
  xaxis: {
    range: xRange, tickvals: xTickVals, ticktext: xTickVals.map(String),
    ticks: 'outside', ticklen: 15, tickwidth: 3, tickcolor: '#000',
    showline: true, linewidth: 3, linecolor: '#000', mirror: true,
    showgrid: false, zeroline: false,
    tickfont: {family: font, size: 28, color: '#000'},
    title: {text: xLabel, font: {family: font, size: 33, color: '#000'}, standoff: 0}
  },
  yaxis: {
    range: yRange, tickvals: yTickVals, tickformat: '.2f',
    ticks: 'outside', ticklen: 15, tickwidth: 3, tickcolor: '#000',
    showline: true, linewidth: 3, linecolor: '#000', mirror: true,
    showgrid: false, zeroline: false,
    tickfont: {family: font, size: 35, color: '#000'},
    title: {text: yLabel, font: {family: font, size: 50, color: '#000'}, standoff: 26}
  }
};

Plotly.newPlot('chart', traces, layout, {displayModeBar: false, staticPlot: true, responsive: false});
</script>
</body></html>
